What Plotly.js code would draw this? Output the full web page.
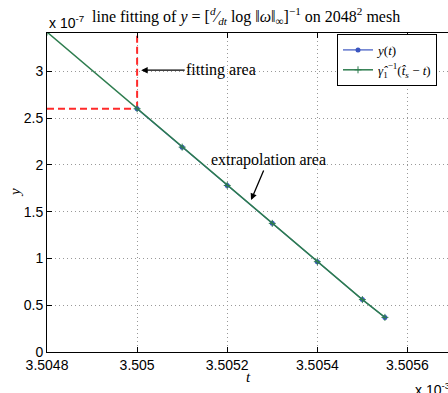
<!DOCTYPE html>
<html>
<head>
<meta charset="utf-8">
<script src="https://cdn.plot.ly/plotly-3.0.1.min.js"></script>
<style>html,body{margin:0;padding:0;background:#fff;}#chart{width:448px;height:393px;}</style>
</head>
<body>
<div id="chart"></div>
<script>
// values in units of 1e-3 (t) and 1e-7 (y), as labelled on the axes
const tData = [3.5050, 3.5051, 3.5052, 3.5053, 3.5054, 3.5055, 3.50555];
const yData = [2.60, 2.19, 1.78, 1.375, 0.965, 0.56, 0.37];
const tFit = [3.5048, 3.5050, 3.5051, 3.5052, 3.5053, 3.5054, 3.5055, 3.50555];
const yFit = [3.42, 2.60, 2.19, 1.78, 1.375, 0.965, 0.56, 0.37];
const fitStartT = 3.5050;
const fitStartY = 2.60;
const xTickVals = [3.5048, 3.5050, 3.5052, 3.5054, 3.5056];
const xTickText = ['3.5048', '3.505', '3.5052', '3.5054', '3.5056'];
const yTickVals = [0, 0.5, 1, 1.5, 2, 2.5, 3];
const yTickText = ['0', '0.5', '1', '1.5', '2', '2.5', '3'];
const xRange = [3.5048, 3.50569];
const yRange = [0, 3.41];

const serif = 'Liberation Serif, DejaVu Serif, serif';
const sans = 'Liberation Sans, Arial, sans-serif';

const traces = [
  {x: [fitStartT, fitStartT], y: [fitStartY, yRange[1]], mode: 'lines', showlegend: false,
   line: {color: '#ff2a2a', width: 2, dash: '7px,4px'}, hoverinfo: 'skip'},
  {x: [xRange[0], fitStartT], y: [fitStartY, fitStartY], mode: 'lines', showlegend: false,
   line: {color: '#ff2a2a', width: 2, dash: '7px,4px'}, hoverinfo: 'skip'},
  {x: tData, y: yData, mode: 'lines+markers', name: '<i>y</i>(<i>t</i>)',
   line: {color: '#3a55c0', width: 1.2},
   marker: {symbol: 'circle', size: 5, color: '#3a55c0'}},
  {x: tFit, y: yFit, mode: 'lines+markers', name: '<i>γ̂</i><sub>1</sub><sup>−1</sup>(<i>t̂</i><sub><i>s</i></sub> − <i>t</i>)',
   line: {color: '#2e7d4f', width: 1.5},
   marker: {symbol: 'cross-thin', size: 5, color: '#2e7d4f', line: {color: '#2e7d4f', width: 1}}}
];

const layout = {
  width: 448, height: 393,
  margin: {l: 47, r: 0, t: 33, b: 41},
  paper_bgcolor: '#fff', plot_bgcolor: '#fff',
  showlegend: true,
  title: {
    text: 'line fitting of <i>y</i> = [<sup><i>d</i></sup>⁄<sub><i>dt</i></sub> log ‖<i>ω</i>‖<sub>∞</sub>]<sup>−1</sup> on 2048<sup>2</sup> mesh',
    font: {family: serif, size: 16, color: '#000'},
    x: 92 / 448, xanchor: 'left', xref: 'container',
    y: 1 - 16 / 393, yanchor: 'middle', yref: 'container'
  },
  xaxis: {
    range: xRange, tickvals: xTickVals, ticktext: xTickText,
    showline: true, linecolor: '#000', linewidth: 1, mirror: 'ticks',
    ticks: 'inside', ticklen: 5, tickcolor: '#000',
    showgrid: true, gridcolor: '#999', griddash: '1px,3px', gridwidth: 1,
    zeroline: false,
    tickfont: {family: sans, size: 14, color: '#000'}
  },
  yaxis: {
    range: yRange, tickvals: yTickVals, ticktext: yTickText,
    showline: true, linecolor: '#000', linewidth: 1,
    ticks: 'inside', ticklen: 5, tickcolor: '#000',
    showgrid: true, gridcolor: '#999', griddash: '1px,3px', gridwidth: 1,
    zeroline: false,
    tickfont: {family: sans, size: 14, color: '#000'}
  },
  legend: {
    x: (337 - 47) / 401, xanchor: 'left', y: 0.997, yanchor: 'top',
    bgcolor: '#fff', bordercolor: '#000', borderwidth: 1,
    font: {family: serif, size: 13, color: '#000'},
    itemwidth: 30, tracegroupgap: 0
  },
  annotations: [
    {xref: 'paper', yref: 'paper', x: 0, y: 1, xanchor: 'left', yanchor: 'bottom', yshift: 0,
     text: 'x 10<sup>-7</sup>', showarrow: false, font: {family: sans, size: 14, color: '#000'}},
    {xref: 'paper', yref: 'paper', x: (413 - 47) / 401, y: -0.08, xanchor: 'left', yanchor: 'top',
     text: 'x 10<sup>-3</sup>', showarrow: false, font: {family: sans, size: 14, color: '#000'}},
    {xref: 'paper', yref: 'paper', x: (248 - 47) / 401, y: -(377 - 352) / 319, xanchor: 'center', yanchor: 'middle',
     text: '<i>t</i>', showarrow: false, font: {family: serif, size: 15, color: '#000'}},
    {xref: 'paper', yref: 'paper', x: -(47 - 15) / 401, y: (352 - 193) / 319, xanchor: 'center', yanchor: 'middle',
     text: '<i>y</i>', textangle: -90, showarrow: false, font: {family: serif, size: 15, color: '#000'}},
    {x: 3.505009, y: 3.013, xref: 'x', yref: 'y', text: 'fitting area',
     showarrow: true, ax: 80, ay: 0, arrowhead: 2, arrowsize: 1, arrowwidth: 1.3, arrowcolor: '#000',
     font: {family: serif, size: 16, color: '#000'}},
    {x: 3.505253, y: 1.624, xref: 'x', yref: 'y', text: 'extrapolation area',
     showarrow: true, ax: 17, ay: -40, arrowhead: 2, arrowsize: 1, arrowwidth: 1.3, arrowcolor: '#000',
     font: {family: serif, size: 16, color: '#000'}}
  ]
};

Plotly.newPlot('chart', traces, layout, {staticPlot: true});
</script>
</body>
</html>
